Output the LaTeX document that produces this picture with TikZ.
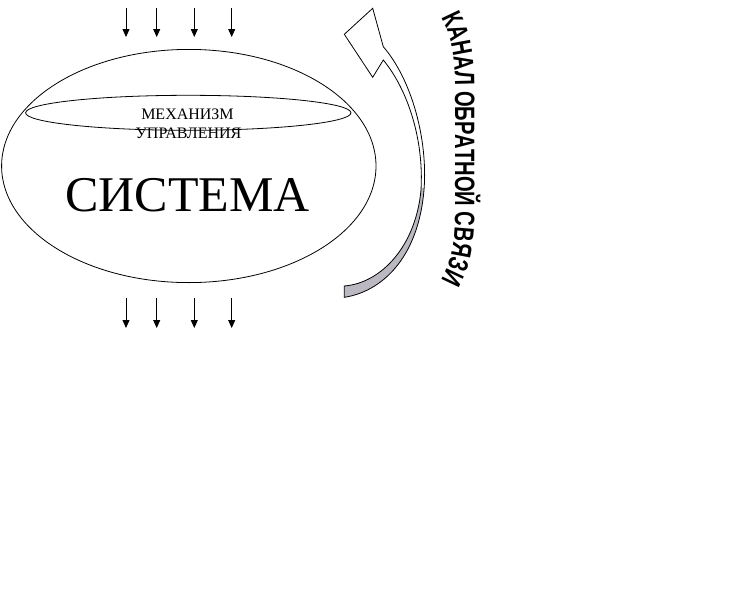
\documentclass[tikz,border=0pt]{standalone}
\usepackage{fontspec}
\setmainfont{Liberation Serif}
\newfontfamily\kanalfont[FakeStretch=0.72]{Liberation Sans Bold}
\usetikzlibrary{arrows.meta,decorations.text,shapes.geometric}
\definecolor{ribbongray}{RGB}{188,184,194}
\tikzset{
  line/.style={line width=0.8pt},
  ovalbox/.style={draw,line width=0.8pt,ellipse,inner sep=0pt,outer sep=0pt},
  inarrow/.style={line width=0.8pt,-{Triangle[length=8pt,width=7pt]}},
  ribbon/.style={line width=0.8pt,draw=black},
}
\begin{document}
\begin{tikzpicture}[x=1pt,y=-1pt]
\useasboundingbox (0,0) rectangle (737,595);
% system ellipse
\node[ovalbox,minimum width=374.4pt,minimum height=233.2pt] (sysell) at (188.8,166) {};
\node[ovalbox,minimum width=325.4pt,minimum height=35pt] (mechell) at (188.3,112.8) {};
\node[anchor=base,inner sep=0pt,font=\fontsize{16}{16}\selectfont] (mech1) at (187.5,119.3) {МЕХАНИЗМ};
\node[anchor=base,inner sep=0pt,font=\fontsize{16}{16}\selectfont] (mech2) at (188.5,138.5) {УПРАВЛЕНИЯ};
\node[anchor=base,inner sep=0pt,font=\fontsize{50}{50}\selectfont] (sys) at (187.5,211.7) {СИСТЕМА};
% input/output arrows
\foreach \i/\x in {1/126,2/156.7,3/194.3,4/231.7}{
  \coordinate (ti\i) at (\x,8);
  \coordinate (tb\i) at (\x,37);
  \draw[inarrow] (ti\i) -- (tb\i);
  \coordinate (bi\i) at (\x,297.5);
  \coordinate (bb\i) at (\x,328);
  \draw[inarrow] (bi\i) -- (bb\i);
}
% feedback ribbon arrow
\begin{scope}
  \clip (330,188) rectangle (440,310);
  \fill[ribbongray] (383.3,46.7) .. controls (412,80) and (428,140) .. (424,190)
     .. controls (418,260) and (380,292) .. (344.3,297.3) -- (344.3,286)
     .. controls (382,283) and (416,245) .. (421,190)
     .. controls (424,140) and (408,90) .. (383.3,60) -- cycle;
\end{scope}
\draw[ribbon,line join=miter] (383.3,60) -- (372.7,77.3) -- (344.3,34.3) -- (372.7,8.3) -- (383.3,46.7)
     .. controls (412,80) and (428,140) .. (424,190)
     .. controls (418,260) and (380,292) .. (344.3,297.3) -- (344.3,286)
     .. controls (382,283) and (416,245) .. (421,190)
     .. controls (424,140) and (408,90) .. (383.3,60) -- cycle;
% curved label
\path[decorate,decoration={text along path,text align=center,
  text={|\kanalfont\fontsize{28}{28}\selectfont|КАНАЛ ОБРАТНОЙ СВЯЗИ}}]
  (435,8) .. controls (449,28) and (455,50) .. (455,85) -- (455,215)
  .. controls (455,250) and (449,268) .. (435,290);
\end{tikzpicture}
\end{document}
